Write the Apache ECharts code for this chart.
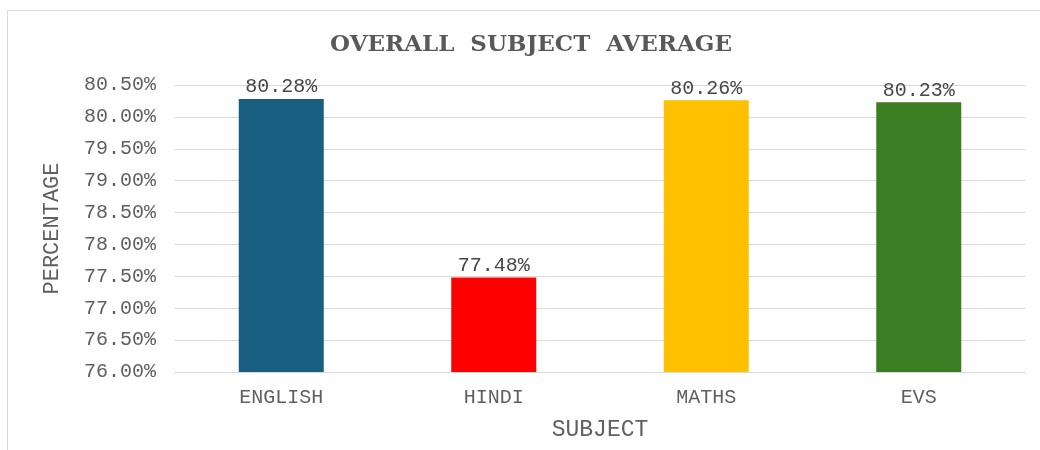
<!DOCTYPE html>
<html>
<head>
<meta charset="utf-8">
<script src="https://cdn.jsdelivr.net/npm/echarts@6/dist/echarts.min.js"></script>
<style>
  html, body { margin: 0; padding: 0; background: #fff; }
  #frame { position: absolute; left: 7px; top: 10px; width: 1040px; height: 450px; border: 1px solid #d9d9d9; box-sizing: border-box; }
  #chart { width: 1040px; height: 450px; }
</style>
</head>
<body>
<div id="frame"></div>
<div id="chart"></div>
<script>
const subjects = ['ENGLISH', 'HINDI', 'MATHS', 'EVS']
const averages = [80.28, 77.48, 80.26, 80.23]
const barColors = ['#175e80', '#ff0000', '#ffc000', '#3a7d22']

const chart = echarts.init(document.getElementById('chart'))

const mono = 'Liberation Mono'
const textGray = '#606060'

const option = {
  backgroundColor: 'transparent',
  animation: false,
  title: {
    text: 'OVERALL  SUBJECT  AVERAGE',
    left: 526,
    top: 29,
    textAlign: 'center',
    textStyle: {
      fontFamily: 'DejaVu Serif',
      fontWeight: 'bold',
      fontSize: 23,
      color: '#595959'
    }
  },
  grid: {
    left: 175,
    right: 15,
    top: 85,
    bottom: 78,
    outerBoundsMode: 'none'
  },
  xAxis: {
    type: 'category',
    data: subjects,
    name: 'SUBJECT',
    nameLocation: 'middle',
    nameGap: 46,
    nameTextStyle: { fontFamily: mono, fontSize: 23, color: textGray },
    axisLine: { lineStyle: { color: '#d9d9d9' } },
    axisTick: { show: false },
    axisLabel: { fontFamily: mono, fontSize: 20, color: textGray, margin: 16 }
  },
  yAxis: {
    type: 'value',
    min: 76,
    max: 80.5,
    interval: 0.5,
    name: 'PERCENTAGE',
    nameLocation: 'middle',
    nameGap: 112,
    nameTextStyle: { fontFamily: mono, fontSize: 22, color: textGray },
    axisLine: { show: false },
    axisTick: { show: false },
    axisLabel: {
      fontFamily: mono,
      fontSize: 20,
      color: textGray,
      margin: 19,
      formatter: v => v.toFixed(2) + '%'
    },
    splitLine: { lineStyle: { color: '#d9d9d9' } }
  },
  series: [{
    type: 'bar',
    barWidth: '40%',
    data: averages.map((v, i) => ({ value: v, itemStyle: { color: barColors[i] } })),
    label: {
      show: true,
      position: 'top',
      distance: 2,
      fontFamily: mono,
      fontSize: 20,
      color: '#474747',
      formatter: p => p.value.toFixed(2) + '%'
    }
  }]
}

chart.setOption(option)
</script>
</body>
</html>
